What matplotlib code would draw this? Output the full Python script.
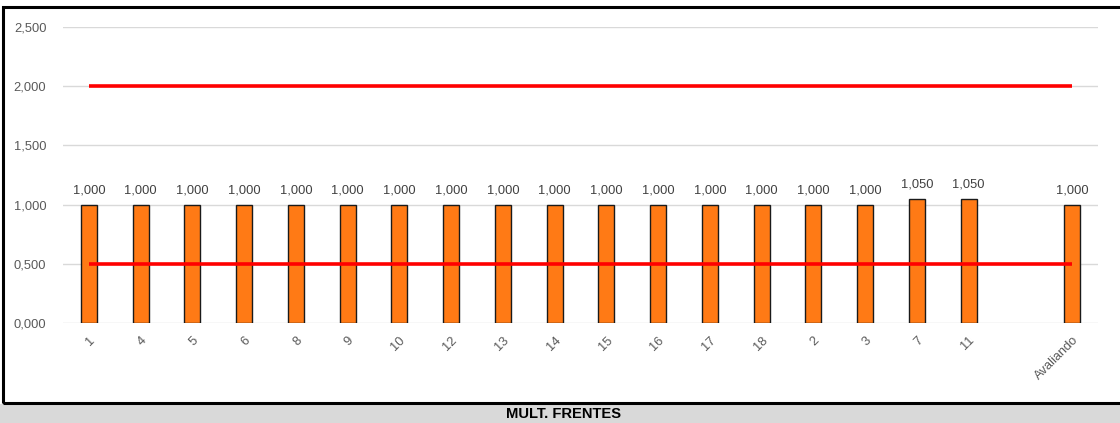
import matplotlib
matplotlib.use("Agg")
import matplotlib.pyplot as plt
from matplotlib.patches import Rectangle
import numpy as np

categories = ["1", "4", "5", "6", "8", "9", "10", "12", "13", "14", "15", "16",
              "17", "18", "2", "3", "7", "11", "", "Avaliando"]
values = [1.0, 1.0, 1.0, 1.0, 1.0, 1.0, 1.0, 1.0, 1.0, 1.0, 1.0, 1.0,
          1.0, 1.0, 1.0, 1.0, 1.05, 1.05, None, 1.0]
upper_limit = [2.0] * len(categories)
lower_limit = [0.5] * len(categories)
yticks = [0.0, 0.5, 1.0, 1.5, 2.0, 2.5]
title = "MULT. FRENTES"


def fmt(v):
    return f"{v:.3f}".replace(".", ",")


W, H = 1120, 423
fig = plt.figure(figsize=(W / 100, H / 100), dpi=100)
plt.rcParams['font.family'] = ['Liberation Sans', 'DejaVu Sans']

ax = fig.add_axes([63 / W, 1 - 323 / H, (1098 - 63) / W, (323 - 27) / H])
x = np.arange(len(categories))

bx = [i for i, v in enumerate(values) if v is not None]
bv = [v for v in values if v is not None]
ax.bar(bx, bv, width=0.31, color="#ff7a15", edgecolor="#1a1a1a", linewidth=1.0, zorder=2)
for xi, v in zip(bx, bv):
    ax.text(xi, v + 0.065, fmt(v), ha="center", va="bottom", fontsize=9.3, color="#404040")

ax.plot(x, upper_limit, color="#ff0000", linewidth=2.6, zorder=3, solid_capstyle="butt")
ax.plot(x, lower_limit, color="#ff0000", linewidth=2.6, zorder=3, solid_capstyle="butt")

ax.set_xlim(-0.5, len(categories) - 0.5)
ax.set_ylim(0, 2.5)
ax.set_yticks(yticks)
ax.set_yticklabels([fmt(t) for t in yticks], fontsize=9.3, color="#595959")
ax.set_xticks(x)
ax.set_xticklabels(categories, rotation=45, ha="right", rotation_mode="anchor",
                   fontsize=9.3, color="#595959")
ax.tick_params(axis="both", length=0)
ax.tick_params(axis="y", pad=12)
ax.tick_params(axis="x", pad=8)
ax.grid(axis="y", color="#d9d9d9", linewidth=1.0, zorder=0)
ax.set_axisbelow(True)
for s in ax.spines.values():
    s.set_visible(False)

# frame and bottom band
fig.patches.append(Rectangle((3 / W, 1 - 403 / H), 1.2, (403 - 7) / H, transform=fig.transFigure,
                             fill=False, edgecolor="black", linewidth=2.2, zorder=5))
fig.patches.append(Rectangle((0, 0), 1, (H - 404) / H, transform=fig.transFigure,
                             facecolor="#d9d9d9", edgecolor="none", zorder=4))
fig.text(564 / W, 1 - 413.5 / H, title, ha="center", va="center", fontsize=10.6,
         fontweight="bold", color="black", zorder=10)

fig.savefig("out.png", dpi=100)
